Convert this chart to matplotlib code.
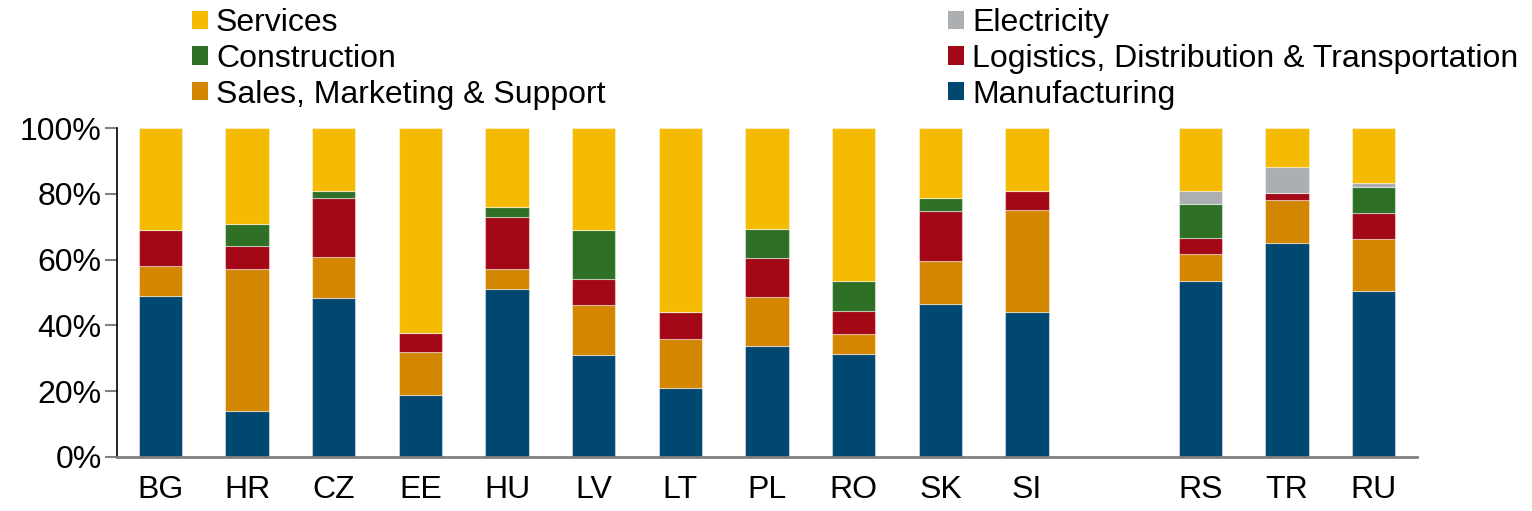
import numpy as np
import matplotlib
matplotlib.use("Agg")
import matplotlib.pyplot as plt
from matplotlib.patches import Patch

plt.rcParams['font.family'] = ['Liberation Sans', 'DejaVu Sans']

countries = ["BG", "HR", "CZ", "EE", "HU", "LV", "LT", "PL", "RO", "SK", "SI", "RS", "TR", "RU"]
groups = ["EU"] * 11 + ["non-EU"] * 3

manufacturing = [49.0, 14.0, 48.4, 18.7, 51.0, 31.1, 21.0, 33.6, 31.4, 46.4, 44.0, 53.5, 65.0, 50.5]
sales = [9.1, 43.1, 12.3, 13.1, 6.1, 15.0, 15.0, 14.9, 6.1, 13.2, 31.0, 8.1, 13.0, 15.8]
logistics = [10.9, 6.9, 18.0, 5.9, 15.9, 7.9, 8.0, 11.9, 7.0, 15.1, 6.0, 5.1, 2.1, 8.0]
construction = [0.0, 6.9, 2.1, 0.0, 3.0, 15.0, 0.0, 8.9, 9.0, 4.1, 0.0, 10.1, 0.0, 7.9]
electricity = [0.0, 0.0, 0.0, 0.0, 0.0, 0.0, 0.0, 0.0, 0.0, 0.0, 0.0, 4.0, 7.9, 1.0]
services = [31.0, 29.1, 19.2, 62.3, 24.0, 31.0, 56.0, 30.7, 46.5, 21.2, 19.0, 19.2, 12.0, 16.8]

series_names = ["Manufacturing", "Sales, Marketing & Support",
                "Logistics, Distribution & Transportation", "Construction",
                "Electricity", "Services"]
series_values = [manufacturing, sales, logistics, construction, electricity, services]
colors = ["#004872", "#D38600", "#A30816", "#2D7026", "#ACAFB1", "#F5BB00"]

# x positions with a one-slot gap between groups
pos = []
x = 0
prev = groups[0]
for g in groups:
    if g != prev:
        x += 1
        prev = g
    pos.append(x)
    x += 1
pos = np.array(pos, dtype=float)

fig = plt.figure(figsize=(15.32, 5.11), dpi=100)
ax = fig.add_axes([0.0764, 0.1057, 0.925 - 0.0764, 0.7495 - 0.1057])

bottom = np.zeros(len(countries))
for name, vals, c in zip(series_names, series_values, colors):
    v = np.array(vals)
    ax.bar(pos, v, width=0.5, bottom=bottom, color=c, edgecolor=(1, 1, 1, 0.45),
           linewidth=0.8, label=name)
    bottom += v

FS = 23
ax.set_xlim(-0.5, pos[-1] + 0.5)
ax.set_ylim(0, 100)
ax.set_yticks([0, 20, 40, 60, 80, 100])
ax.set_yticklabels([f"{t}%" for t in [0, 20, 40, 60, 80, 100]], fontsize=FS)
ax.set_xticks(pos)
ax.set_xticklabels(countries, fontsize=FS)
ax.tick_params(axis='x', length=0, pad=13)
ax.tick_params(axis='y', length=9, width=1.5, color='#808080', pad=2)
for s in ['top', 'right']:
    ax.spines[s].set_visible(False)
ax.spines['left'].set_color('black')
ax.spines['left'].set_linewidth(1.2)
ax.spines['bottom'].set_color('#808080')
ax.spines['bottom'].set_linewidth(2)

legend_order = ["Services", "Construction", "Sales, Marketing & Support",
                "Electricity", "Logistics, Distribution & Transportation", "Manufacturing"]
handles = [Patch(facecolor=colors[series_names.index(n)], edgecolor='none') for n in legend_order]
fig.legend(handles, legend_order, loc='upper left', bbox_to_anchor=(0.117, 1.009),
           ncol=2, frameon=False, fontsize=FS, handlelength=0.5, handleheight=0.5,
           handletextpad=0.25, labelspacing=0.18, columnspacing=10.72, borderaxespad=0)

fig.savefig("out.png", dpi=100)
